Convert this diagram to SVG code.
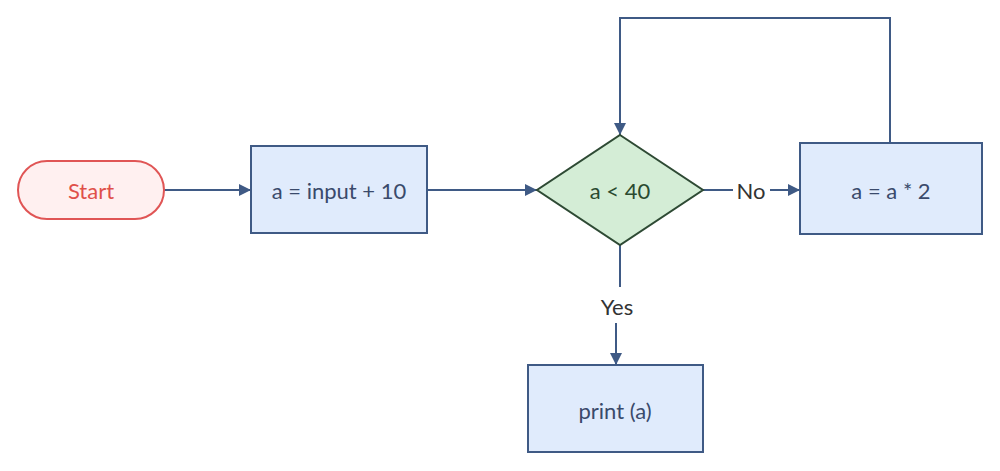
<svg xmlns="http://www.w3.org/2000/svg" width="1000" height="471" viewBox="0 0 1000 471">
<style>
.box{fill:#e0ebfc;stroke:#3f5a85;stroke-width:2}
.lbl{font-family:Lato,"Liberation Sans",sans-serif;font-size:22px;text-anchor:middle;dominant-baseline:central}
.edge{fill:none;stroke:#3f5a85;stroke-width:2}
.elbl{font-family:Lato,"Liberation Sans",sans-serif;font-size:22px;text-anchor:middle;dominant-baseline:central;fill:#333}
</style>
<defs>
<marker id="arr" viewBox="0 0 10 10" refX="10" refY="5" markerWidth="12" markerHeight="12" markerUnits="userSpaceOnUse" orient="auto">
<path d="M0,0 L10,5 L0,10 z" fill="#3f5a85"/>
</marker>
</defs>
<rect width="1000" height="471" fill="#ffffff"/>
<g id="connectors">
<line class="edge" x1="164" y1="190" x2="251" y2="190" marker-end="url(#arr)"/>
<line class="edge" x1="427" y1="190" x2="537" y2="190" marker-end="url(#arr)"/>
<line class="edge" x1="703" y1="190" x2="733" y2="190"/>
<line class="edge" x1="770" y1="190" x2="800" y2="190" marker-end="url(#arr)"/>
<text class="elbl" x="751" y="190">No</text>
<polyline class="edge" points="890,143 890,18 620,18 620,135" marker-end="url(#arr)"/>
<line class="edge" x1="620" y1="245" x2="620" y2="287"/>
<line class="edge" x1="616" y1="323" x2="616" y2="365" marker-end="url(#arr)"/>
<text class="elbl" x="617" y="306">Yes</text>
</g>
<g id="start">
<rect x="18" y="161" width="146" height="58" rx="29" ry="29" fill="#fff0f0" stroke="#e05555" stroke-width="2"/>
<text class="lbl" x="91" y="190" fill="#e0504a">Start</text>
</g>
<g id="assign">
<rect class="box" x="251" y="146" width="176" height="87"/>
<text class="lbl" x="339" y="190" fill="#3a4a6b">a = input + 10</text>
</g>
<g id="decision">
<polygon points="620,135 703,190 620,245 537,190" fill="#d4edd6" stroke="#2e4a34" stroke-width="2"/>
<text class="lbl" x="620" y="190" fill="#2a4a30">a &lt; 40</text>
</g>
<g id="double">
<rect class="box" x="800" y="143" width="182" height="91"/>
<text class="lbl" x="891" y="190" fill="#3a4a6b">a = a * 2</text>
</g>
<g id="print">
<rect class="box" x="528" y="365" width="175" height="87"/>
<text class="lbl" x="615" y="410" fill="#3a4a6b">print (a)</text>
</g>
</svg>
